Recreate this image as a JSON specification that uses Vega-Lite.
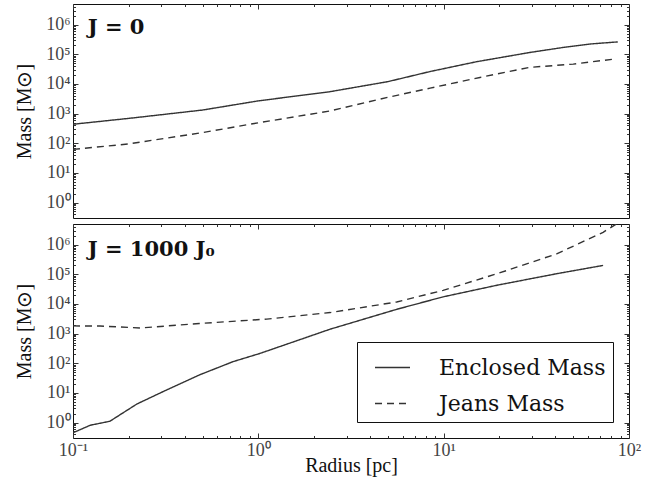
{
  "$schema": "https://vega.github.io/schema/vega-lite/v6.json",
  "padding": {"left": 14, "top": 3, "right": 5, "bottom": 5},
  "config": {
    "view": {"stroke": "#111", "strokeWidth": 1},
    "font": "Liberation Serif",
    "axis": {"grid": false, "domain": false, "labelFont": "Liberation Serif", "labelFontSize": 18, "labelColor": "#444", "titleFont": "Liberation Serif", "titleFontSize": 20, "titleFontWeight": "normal", "titleColor": "#111", "tickColor": "#333", "tickWidth": 1, "labelFlush": false},
    "concat": {"spacing": 0}
  },
  "datasets": {
    "top": [
      {"r": 0.1, "m": 437, "kind": "Enclosed Mass"},
      {"r": 0.2, "m": 690, "kind": "Enclosed Mass"},
      {"r": 0.5, "m": 1320, "kind": "Enclosed Mass"},
      {"r": 1, "m": 2690, "kind": "Enclosed Mass"},
      {"r": 2.44, "m": 5500, "kind": "Enclosed Mass"},
      {"r": 5, "m": 12000, "kind": "Enclosed Mass"},
      {"r": 8.45, "m": 26300, "kind": "Enclosed Mass"},
      {"r": 15, "m": 56200, "kind": "Enclosed Mass"},
      {"r": 29, "m": 115000, "kind": "Enclosed Mass"},
      {"r": 45, "m": 174000, "kind": "Enclosed Mass"},
      {"r": 62, "m": 224000, "kind": "Enclosed Mass"},
      {"r": 87, "m": 263000, "kind": "Enclosed Mass"},
      {"r": 0.1, "m": 62, "kind": "Jeans Mass"},
      {"r": 0.2, "m": 95, "kind": "Jeans Mass"},
      {"r": 0.5, "m": 229, "kind": "Jeans Mass"},
      {"r": 1, "m": 490, "kind": "Jeans Mass"},
      {"r": 2.44, "m": 1230, "kind": "Jeans Mass"},
      {"r": 5, "m": 3550, "kind": "Jeans Mass"},
      {"r": 8.45, "m": 7240, "kind": "Jeans Mass"},
      {"r": 15.7, "m": 16600, "kind": "Jeans Mass"},
      {"r": 29, "m": 36300, "kind": "Jeans Mass"},
      {"r": 50, "m": 46800, "kind": "Jeans Mass"},
      {"r": 83, "m": 69200, "kind": "Jeans Mass"}
    ],
    "bottom": [
      {"r": 0.1, "m": 0.45, "kind": "Enclosed Mass"},
      {"r": 0.124, "m": 0.81, "kind": "Enclosed Mass"},
      {"r": 0.158, "m": 1.1, "kind": "Enclosed Mass"},
      {"r": 0.221, "m": 4.2, "kind": "Enclosed Mass"},
      {"r": 0.306, "m": 11, "kind": "Enclosed Mass"},
      {"r": 0.484, "m": 41, "kind": "Enclosed Mass"},
      {"r": 0.73, "m": 113, "kind": "Enclosed Mass"},
      {"r": 1.02, "m": 214, "kind": "Enclosed Mass"},
      {"r": 2.44, "m": 1410, "kind": "Enclosed Mass"},
      {"r": 5.58, "m": 6600, "kind": "Enclosed Mass"},
      {"r": 9.93, "m": 17400, "kind": "Enclosed Mass"},
      {"r": 19.4, "m": 42900, "kind": "Enclosed Mass"},
      {"r": 40.7, "m": 105000, "kind": "Enclosed Mass"},
      {"r": 72.5, "m": 200000, "kind": "Enclosed Mass"},
      {"r": 0.1, "m": 1820, "kind": "Jeans Mass"},
      {"r": 0.14, "m": 1800, "kind": "Jeans Mass"},
      {"r": 0.23, "m": 1550, "kind": "Jeans Mass"},
      {"r": 0.48, "m": 2190, "kind": "Jeans Mass"},
      {"r": 1.11, "m": 3090, "kind": "Jeans Mass"},
      {"r": 2.44, "m": 5130, "kind": "Jeans Mass"},
      {"r": 5.58, "m": 11700, "kind": "Jeans Mass"},
      {"r": 9.93, "m": 28800, "kind": "Jeans Mass"},
      {"r": 19.4, "m": 105000, "kind": "Jeans Mass"},
      {"r": 40.7, "m": 490000, "kind": "Jeans Mass"},
      {"r": 72.5, "m": 2630000, "kind": "Jeans Mass"},
      {"r": 88, "m": 5600000, "kind": "Jeans Mass"}
    ]
  },
  "spacing": 0,
  "resolve": {"legend": {"strokeDash": "independent"}, "scale": {"strokeDash": "independent"}},
  "vconcat": [
    {
      "width": 556,
      "height": 214,
      "data": {"name": "top"},
      "resolve": {"axis": {"x": "independent", "y": "independent"}},
      "layer": [
        {
          "mark": {"type": "line", "color": "#333", "strokeWidth": 1.4, "clip": true},
          "encoding": {
            "x": {"field": "r", "type": "quantitative", "scale": {"type": "log", "domain": [0.1, 100], "nice": false}, "axis": null},
            "y": {"field": "m", "type": "quantitative", "scale": {"type": "log", "domain": [0.3, 5000000], "nice": false},
              "axis": {"values": [1, 10, 100, 1000, 10000, 100000, 1000000], "labelExpr": "'10' + ['⁰','¹','²','³','⁴','⁵','⁶'][round(log(datum.value)/LN10)]", "tickSize": -5, "labelPadding": 8, "title": "Mass [M⊙]", "titlePadding": 11}},
            "strokeDash": {"field": "kind", "type": "nominal", "scale": {"domain": ["Enclosed Mass", "Jeans Mass"], "range": [[1, 0], [7, 5]]}, "legend": null}
          }
        },
        {
          "mark": {"type": "point", "opacity": 0},
          "encoding": {
            "x": {"field": "r", "type": "quantitative", "axis": {"orient": "top", "values": [0.1, 1, 10, 100], "labels": false, "tickSize": -5, "title": null}},
            "y": {"field": "m", "type": "quantitative", "axis": {"orient": "right", "values": [1, 10, 100, 1000, 10000, 100000, 1000000], "labels": false, "tickSize": -5, "title": null}}
          }
        },
        {
          "mark": {"type": "point", "opacity": 0},
          "encoding": {
            "x": {"field": "r", "type": "quantitative", "axis": {"orient": "top", "values": [0.2, 0.3, 0.4, 0.5, 0.6, 0.7, 0.8, 0.9, 2, 3, 4, 5, 6, 7, 8, 9, 20, 30, 40, 50, 60, 70, 80, 90], "labels": false, "tickSize": -2.5, "title": null}},
            "y": {"field": "m", "type": "quantitative", "axis": {"orient": "left", "values": [0.4, 0.5, 0.6, 0.7, 0.8, 0.9, 2, 3, 4, 5, 6, 7, 8, 9, 20, 30, 40, 50, 60, 70, 80, 90, 200, 300, 400, 500, 600, 700, 800, 900, 2000, 3000, 4000, 5000, 6000, 7000, 8000, 9000, 20000, 30000, 40000, 50000, 60000, 70000, 80000, 90000, 200000, 300000, 400000, 500000, 600000, 700000, 800000, 900000, 2000000, 3000000, 4000000], "labels": false, "tickSize": -2.5, "title": null}}
          }
        },
        {
          "mark": {"type": "point", "opacity": 0},
          "encoding": {
            "y": {"field": "m", "type": "quantitative", "axis": {"orient": "right", "values": [0.4, 0.5, 0.6, 0.7, 0.8, 0.9, 2, 3, 4, 5, 6, 7, 8, 9, 20, 30, 40, 50, 60, 70, 80, 90, 200, 300, 400, 500, 600, 700, 800, 900, 2000, 3000, 4000, 5000, 6000, 7000, 8000, 9000, 20000, 30000, 40000, 50000, 60000, 70000, 80000, 90000, 200000, 300000, 400000, 500000, 600000, 700000, 800000, 900000, 2000000, 3000000, 4000000], "labels": false, "tickSize": -2.5, "title": null}}
          }
        },
        {
          "data": {"values": [{"label": "J = 0", "r": 0.12, "m": 490000}]},
          "mark": {"type": "text", "align": "left", "baseline": "alphabetic", "font": "DejaVu Serif", "fontWeight": "bold", "fontSize": 21, "color": "#111"},
          "encoding": {
            "x": {"field": "r", "type": "quantitative", "axis": null},
            "y": {"field": "m", "type": "quantitative", "axis": null},
            "text": {"field": "label"}
          }
        }
      ]
    },
    {
      "width": 556,
      "height": 214,
      "data": {"name": "bottom"},
      "resolve": {"axis": {"x": "independent", "y": "independent"}},
      "layer": [
        {
          "mark": {"type": "line", "color": "#333", "strokeWidth": 1.4, "clip": true},
          "encoding": {
            "x": {"field": "r", "type": "quantitative", "scale": {"type": "log", "domain": [0.1, 100], "nice": false},
              "axis": {"values": [0.1, 1, 10, 100], "labelExpr": "datum.value < 0.5 ? '10⁻¹' : '10' + ['⁰','¹','²'][round(log(datum.value)/LN10)]", "tickSize": -5, "labelPadding": 8, "title": "Radius [pc]", "titlePadding": -4}},
            "y": {"field": "m", "type": "quantitative", "scale": {"type": "log", "domain": [0.3, 5000000], "nice": false},
              "axis": {"values": [1, 10, 100, 1000, 10000, 100000, 1000000], "labelExpr": "'10' + ['⁰','¹','²','³','⁴','⁵','⁶'][round(log(datum.value)/LN10)]", "tickSize": -5, "labelPadding": 8, "title": "Mass [M⊙]", "titlePadding": 11}},
            "strokeDash": {"field": "kind", "type": "nominal", "scale": {"domain": ["Enclosed Mass", "Jeans Mass"], "range": [[1, 0], [7, 5]]},
              "legend": {"orient": "none", "legendX": 284, "legendY": 118, "title": null, "symbolType": "stroke", "symbolSize": 1225, "symbolStrokeColor": "#333", "symbolStrokeWidth": 1.4, "symbolOffset": 10, "labelFont": "DejaVu Serif", "labelFontSize": 22, "labelLimit": 400, "labelColor": "#111", "strokeColor": "#111", "fillColor": "white", "padding": 7, "rowPadding": 6, "labelOffset": 28}}
          }
        },
        {
          "mark": {"type": "point", "opacity": 0},
          "encoding": {
            "x": {"field": "r", "type": "quantitative", "axis": {"orient": "top", "values": [0.1, 1, 10, 100], "labels": false, "tickSize": -5, "title": null}},
            "y": {"field": "m", "type": "quantitative", "axis": {"orient": "right", "values": [1, 10, 100, 1000, 10000, 100000, 1000000], "labels": false, "tickSize": -5, "title": null}}
          }
        },
        {
          "mark": {"type": "point", "opacity": 0},
          "encoding": {
            "x": {"field": "r", "type": "quantitative", "axis": {"orient": "top", "values": [0.2, 0.3, 0.4, 0.5, 0.6, 0.7, 0.8, 0.9, 2, 3, 4, 5, 6, 7, 8, 9, 20, 30, 40, 50, 60, 70, 80, 90], "labels": false, "tickSize": -2.5, "title": null}},
            "y": {"field": "m", "type": "quantitative", "axis": {"orient": "left", "values": [0.4, 0.5, 0.6, 0.7, 0.8, 0.9, 2, 3, 4, 5, 6, 7, 8, 9, 20, 30, 40, 50, 60, 70, 80, 90, 200, 300, 400, 500, 600, 700, 800, 900, 2000, 3000, 4000, 5000, 6000, 7000, 8000, 9000, 20000, 30000, 40000, 50000, 60000, 70000, 80000, 90000, 200000, 300000, 400000, 500000, 600000, 700000, 800000, 900000, 2000000, 3000000, 4000000], "labels": false, "tickSize": -2.5, "title": null}}
          }
        },
        {
          "mark": {"type": "point", "opacity": 0},
          "encoding": {
            "x": {"field": "r", "type": "quantitative", "axis": {"orient": "bottom", "values": [0.2, 0.3, 0.4, 0.5, 0.6, 0.7, 0.8, 0.9, 2, 3, 4, 5, 6, 7, 8, 9, 20, 30, 40, 50, 60, 70, 80, 90], "labels": false, "tickSize": -2.5, "title": null}},
            "y": {"field": "m", "type": "quantitative", "axis": {"orient": "right", "values": [0.4, 0.5, 0.6, 0.7, 0.8, 0.9, 2, 3, 4, 5, 6, 7, 8, 9, 20, 30, 40, 50, 60, 70, 80, 90, 200, 300, 400, 500, 600, 700, 800, 900, 2000, 3000, 4000, 5000, 6000, 7000, 8000, 9000, 20000, 30000, 40000, 50000, 60000, 70000, 80000, 90000, 200000, 300000, 400000, 500000, 600000, 700000, 800000, 900000, 2000000, 3000000, 4000000], "labels": false, "tickSize": -2.5, "title": null}}
          }
        },
        {
          "data": {"values": [{"label": "J = 1000 J₀", "r": 0.12, "m": 430000}]},
          "mark": {"type": "text", "align": "left", "baseline": "alphabetic", "font": "DejaVu Serif", "fontWeight": "bold", "fontSize": 21, "color": "#111"},
          "encoding": {
            "x": {"field": "r", "type": "quantitative", "axis": null},
            "y": {"field": "m", "type": "quantitative", "axis": null},
            "text": {"field": "label"}
          }
        }
      ]
    }
  ]
}
